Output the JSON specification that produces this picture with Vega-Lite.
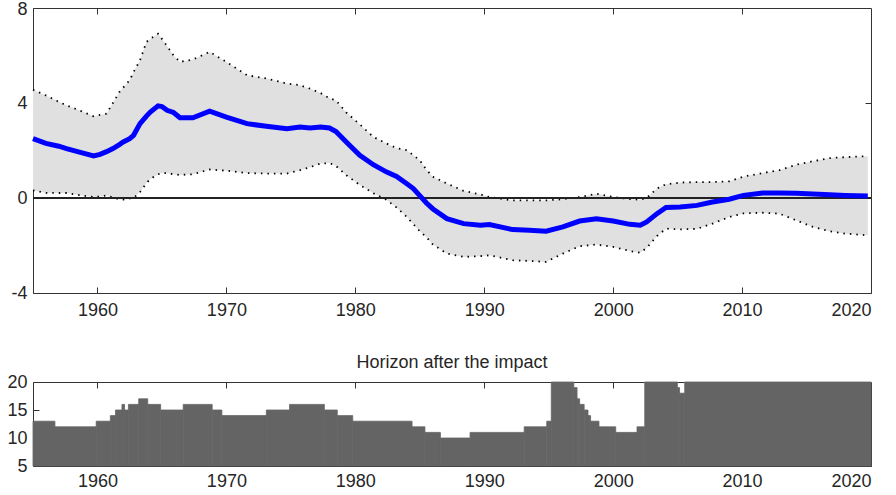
{
  "$schema": "https://vega.github.io/schema/vega-lite/v6.json",
  "background": "white",
  "padding": {"left": 6, "top": 0, "right": 0, "bottom": 0},
  "bounds": "flush",
  "spacing": 89,
  "config": {
    "view": {"stroke": "#333333", "strokeWidth": 1},
    "font": "Liberation Sans",
    "axis": {
      "labelFont": "Liberation Sans",
      "labelFontSize": 18,
      "labelColor": "#262626",
      "domain": false,
      "grid": false,
      "tickColor": "#333333",
      "tickSize": -6,
      "tickWidth": 1,
      "labelPadding": 12
    }
  },
  "datasets": {
    "band": [
      {"year": 1955.0, "mid": 2.50, "hi": 4.56, "lo": 0.32},
      {"year": 1956.0, "mid": 2.30, "hi": 4.32, "lo": 0.22},
      {"year": 1957.0, "mid": 2.18, "hi": 4.05, "lo": 0.21},
      {"year": 1957.6, "mid": 2.08, "hi": 3.90, "lo": 0.21},
      {"year": 1958.6, "mid": 1.93, "hi": 3.69, "lo": 0.12},
      {"year": 1959.7, "mid": 1.77, "hi": 3.44, "lo": 0.04},
      {"year": 1960.2, "mid": 1.84, "hi": 3.50, "lo": 0.06},
      {"year": 1960.7, "mid": 1.95, "hi": 3.55, "lo": 0.11},
      {"year": 1961.2, "mid": 2.08, "hi": 4.00, "lo": 0.02},
      {"year": 1961.7, "mid": 2.25, "hi": 4.46, "lo": -0.05},
      {"year": 1962.0, "mid": 2.36, "hi": 4.65, "lo": -0.07},
      {"year": 1962.5, "mid": 2.50, "hi": 4.96, "lo": -0.02},
      {"year": 1962.8, "mid": 2.64, "hi": 5.30, "lo": 0.00},
      {"year": 1963.3, "mid": 3.13, "hi": 5.80, "lo": 0.25},
      {"year": 1963.8, "mid": 3.45, "hi": 6.57, "lo": 0.63},
      {"year": 1964.1, "mid": 3.62, "hi": 6.70, "lo": 0.80},
      {"year": 1964.7, "mid": 3.88, "hi": 6.92, "lo": 1.00},
      {"year": 1965.0, "mid": 3.85, "hi": 6.70, "lo": 1.05},
      {"year": 1965.4, "mid": 3.69, "hi": 6.40, "lo": 1.05},
      {"year": 1965.9, "mid": 3.60, "hi": 6.00, "lo": 1.00},
      {"year": 1966.4, "mid": 3.38, "hi": 5.73, "lo": 0.97},
      {"year": 1967.4, "mid": 3.38, "hi": 5.83, "lo": 1.00},
      {"year": 1968.7, "mid": 3.66, "hi": 6.15, "lo": 1.20},
      {"year": 1970.0, "mid": 3.41, "hi": 5.73, "lo": 1.15},
      {"year": 1971.6, "mid": 3.13, "hi": 5.17, "lo": 1.05},
      {"year": 1973.1, "mid": 3.02, "hi": 5.03, "lo": 1.03},
      {"year": 1974.7, "mid": 2.92, "hi": 4.82, "lo": 1.03},
      {"year": 1975.7, "mid": 2.99, "hi": 4.75, "lo": 1.17},
      {"year": 1976.5, "mid": 2.95, "hi": 4.60, "lo": 1.30},
      {"year": 1977.3, "mid": 2.99, "hi": 4.42, "lo": 1.45},
      {"year": 1978.0, "mid": 2.95, "hi": 4.20, "lo": 1.47},
      {"year": 1978.5, "mid": 2.80, "hi": 4.11, "lo": 1.35},
      {"year": 1979.3, "mid": 2.36, "hi": 3.60, "lo": 0.96},
      {"year": 1980.35, "mid": 1.80, "hi": 3.10, "lo": 0.55},
      {"year": 1981.4, "mid": 1.40, "hi": 2.57, "lo": 0.20},
      {"year": 1982.4, "mid": 1.10, "hi": 2.30, "lo": -0.07},
      {"year": 1983.2, "mid": 0.91, "hi": 2.10, "lo": -0.40},
      {"year": 1984.0, "mid": 0.60, "hi": 2.01, "lo": -0.80},
      {"year": 1984.5, "mid": 0.40, "hi": 1.80, "lo": -1.10},
      {"year": 1985.0, "mid": 0.10, "hi": 1.59, "lo": -1.40},
      {"year": 1985.5, "mid": -0.20, "hi": 1.20, "lo": -1.64},
      {"year": 1986.0, "mid": -0.45, "hi": 0.90, "lo": -1.95},
      {"year": 1987.1, "mid": -0.87, "hi": 0.61, "lo": -2.34},
      {"year": 1988.4, "mid": -1.08, "hi": 0.30, "lo": -2.48},
      {"year": 1989.7, "mid": -1.15, "hi": 0.15, "lo": -2.45},
      {"year": 1990.4, "mid": -1.12, "hi": 0.04, "lo": -2.41},
      {"year": 1992.2, "mid": -1.33, "hi": -0.10, "lo": -2.62},
      {"year": 1993.5, "mid": -1.36, "hi": -0.10, "lo": -2.65},
      {"year": 1994.8, "mid": -1.40, "hi": -0.10, "lo": -2.69},
      {"year": 1996.1, "mid": -1.22, "hi": -0.05, "lo": -2.34},
      {"year": 1997.4, "mid": -0.97, "hi": 0.04, "lo": -2.03},
      {"year": 1998.7, "mid": -0.87, "hi": 0.18, "lo": -1.96},
      {"year": 2000.0, "mid": -0.97, "hi": 0.04, "lo": -2.06},
      {"year": 2001.3, "mid": -1.11, "hi": -0.05, "lo": -2.23},
      {"year": 2002.1, "mid": -1.15, "hi": -0.07, "lo": -2.31},
      {"year": 2002.6, "mid": -1.01, "hi": 0.00, "lo": -2.10},
      {"year": 2003.4, "mid": -0.66, "hi": 0.40, "lo": -1.60},
      {"year": 2004.1, "mid": -0.40, "hi": 0.58, "lo": -1.29},
      {"year": 2005.2, "mid": -0.38, "hi": 0.65, "lo": -1.32},
      {"year": 2006.5, "mid": -0.31, "hi": 0.67, "lo": -1.30},
      {"year": 2007.7, "mid": -0.17, "hi": 0.67, "lo": -1.08},
      {"year": 2009.0, "mid": -0.05, "hi": 0.70, "lo": -0.80},
      {"year": 2010.1, "mid": 0.11, "hi": 0.90, "lo": -0.65},
      {"year": 2011.6, "mid": 0.21, "hi": 1.05, "lo": -0.62},
      {"year": 2012.9, "mid": 0.21, "hi": 1.17, "lo": -0.66},
      {"year": 2014.2, "mid": 0.20, "hi": 1.40, "lo": -0.94},
      {"year": 2015.5, "mid": 0.17, "hi": 1.55, "lo": -1.22},
      {"year": 2016.8, "mid": 0.14, "hi": 1.68, "lo": -1.40},
      {"year": 2018.0, "mid": 0.11, "hi": 1.72, "lo": -1.50},
      {"year": 2019.75, "mid": 0.08, "hi": 1.76, "lo": -1.57}
    ],
    "horizon": [
      {"start": 1955.0, "end": 1956.7, "h": 13},
      {"start": 1956.7, "end": 1959.9, "h": 12},
      {"start": 1959.9, "end": 1961.0, "h": 13},
      {"start": 1961.0, "end": 1961.4, "h": 14},
      {"start": 1961.4, "end": 1961.9, "h": 15},
      {"start": 1961.9, "end": 1962.1, "h": 16},
      {"start": 1962.1, "end": 1962.4, "h": 15},
      {"start": 1962.4, "end": 1963.2, "h": 16},
      {"start": 1963.2, "end": 1963.9, "h": 17},
      {"start": 1963.9, "end": 1964.9, "h": 16},
      {"start": 1964.9, "end": 1966.65, "h": 15},
      {"start": 1966.65, "end": 1968.9, "h": 16},
      {"start": 1968.9, "end": 1969.65, "h": 15},
      {"start": 1969.65, "end": 1973.1, "h": 14},
      {"start": 1973.1, "end": 1974.9, "h": 15},
      {"start": 1974.9, "end": 1977.6, "h": 16},
      {"start": 1977.6, "end": 1978.6, "h": 15},
      {"start": 1978.6, "end": 1979.8, "h": 14},
      {"start": 1979.8, "end": 1984.4, "h": 13},
      {"start": 1984.4, "end": 1985.4, "h": 12},
      {"start": 1985.4, "end": 1986.6, "h": 11},
      {"start": 1986.6, "end": 1988.9, "h": 10},
      {"start": 1988.9, "end": 1993.1, "h": 11},
      {"start": 1993.1, "end": 1994.85, "h": 12},
      {"start": 1994.85, "end": 1995.2, "h": 13},
      {"start": 1995.2, "end": 1996.95, "h": 20},
      {"start": 1996.95, "end": 1997.2, "h": 19},
      {"start": 1997.2, "end": 1997.4, "h": 17},
      {"start": 1997.4, "end": 1997.75, "h": 16},
      {"start": 1997.75, "end": 1998.05, "h": 15},
      {"start": 1998.05, "end": 1998.25, "h": 14},
      {"start": 1998.25, "end": 1998.9, "h": 13},
      {"start": 1998.9, "end": 2000.2, "h": 12},
      {"start": 2000.2, "end": 2001.85, "h": 11},
      {"start": 2001.85, "end": 2002.45, "h": 12},
      {"start": 2002.45, "end": 2004.98, "h": 20},
      {"start": 2004.98, "end": 2005.15, "h": 19},
      {"start": 2005.15, "end": 2005.55, "h": 18},
      {"start": 2005.55, "end": 2020.0, "h": 20}
    ]
  },
  "vconcat": [
    {
      "width": 838,
      "height": 285,
      "data": {"name": "band"},
      "resolve": {"axis": {"x": "independent", "y": "independent"}},
      "layer": [
        {
          "mark": {"type": "area", "color": "#e0e0e0", "opacity": 1},
          "encoding": {
            "x": {"field": "year", "type": "quantitative", "scale": {"domain": [1955, 2020], "nice": false, "zero": false},
                  "axis": {"orient": "bottom", "title": null, "values": [1960, 1970, 1980, 1990, 2000, 2010, 2020], "labelExpr": "'' + datum.value", "labelPadding": 14}},
            "y": {"field": "lo", "type": "quantitative", "scale": {"domain": [-4, 8], "nice": false, "zero": false},
                  "axis": {"orient": "left", "title": null, "values": [-4, 0, 4, 8], "labelExpr": "'' + datum.value",
                           "labelOffset": {"condition": {"test": "datum.value == 8", "value": 1.5}, "value": 0}}},
            "y2": {"field": "hi"}
          }
        },
        {
          "mark": {"type": "line", "color": "black", "strokeWidth": 1.8, "strokeDash": [1.5, 5]},
          "encoding": {
            "x": {"field": "year", "type": "quantitative", "axis": {"orient": "top", "title": null, "labels": false, "values": [1960, 1970, 1980, 1990, 2000, 2010]}},
            "y": {"field": "hi", "type": "quantitative", "axis": {"orient": "right", "title": null, "labels": false, "values": [0, 4]}}
          }
        },
        {
          "mark": {"type": "line", "color": "black", "strokeWidth": 1.8, "strokeDash": [1.5, 5]},
          "encoding": {
            "x": {"field": "year", "type": "quantitative", "axis": null},
            "y": {"field": "lo", "type": "quantitative", "axis": null}
          }
        },
        {
          "mark": {"type": "rule", "color": "#222222", "strokeWidth": 1},
          "encoding": {"y": {"datum": 0, "type": "quantitative", "axis": null}}
        },
        {
          "mark": {"type": "line", "color": "#0000ff", "strokeWidth": 5},
          "encoding": {
            "x": {"field": "year", "type": "quantitative", "axis": null},
            "y": {"field": "mid", "type": "quantitative", "axis": null}
          }
        }
      ]
    },
    {
      "width": 838,
      "height": 84,
      "data": {"name": "horizon"},
      "title": {"text": "Horizon after the impact", "fontSize": 18, "fontWeight": "normal", "font": "Liberation Sans", "color": "#262626", "offset": 1},
      "resolve": {"axis": {"x": "independent", "y": "independent"}},
      "layer": [
        {
          "mark": {"type": "rect", "color": "#646464", "stroke": "#646464", "strokeWidth": 0.8},
          "encoding": {
            "x": {"field": "start", "type": "quantitative", "scale": {"domain": [1955, 2020], "nice": false, "zero": false},
                  "axis": {"orient": "bottom", "title": null, "values": [1960, 1970, 1980, 1990, 2000, 2010, 2020], "labelExpr": "'' + datum.value", "labelPadding": 12}},
            "x2": {"field": "end"},
            "y": {"field": "h", "type": "quantitative", "scale": {"domain": [5, 20], "nice": false, "zero": false},
                  "axis": {"orient": "left", "title": null, "values": [5, 10, 15, 20], "labelExpr": "'' + datum.value"}},
            "y2": {"datum": 5}
          }
        },
        {
          "mark": {"type": "rule", "opacity": 0},
          "encoding": {
            "x": {"field": "start", "type": "quantitative", "axis": {"orient": "top", "title": null, "labels": false, "values": [1960, 1970, 1980, 1990, 2000, 2010]}},
            "y": {"field": "h", "type": "quantitative", "axis": {"orient": "right", "title": null, "labels": false, "values": [10, 15]}}
          }
        }
      ]
    }
  ]
}
